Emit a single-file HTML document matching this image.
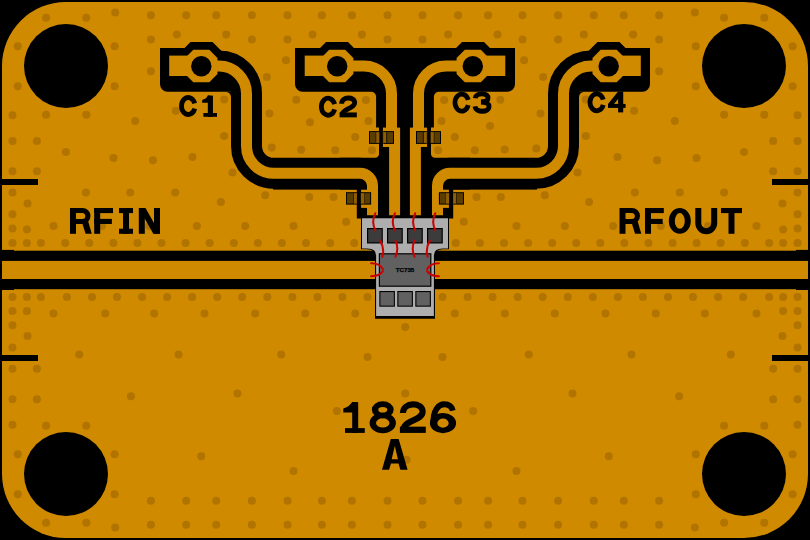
<!DOCTYPE html>
<html><head><meta charset="utf-8"><title>PCB Layout 1826</title>
<style>html,body{margin:0;padding:0;background:#000;}body{width:810px;height:540px;overflow:hidden;font-family:"Liberation Sans",sans-serif;}svg{display:block;}</style>
</head><body>
<svg width="810" height="540" viewBox="0 0 810 540">
<defs>
<g id="half">
<path d="M160,48H184.5L190.5,42H212.5L221.5,51V62H232V91.7H167.5A7.5,7.5 0 0 1 160,84.2Z" fill="#000"/>
<path d="M225.5,91.7H231V97.2A5.5,5.5 0 0 0 225.5,91.7Z" fill="#000"/>
<path d="M201,66H219A27.5,27.5 0 0 1 246.5,93.5V146A27.35,27.35 0 0 0 273.85,173.35H360A12.5,12.5 0 0 1 372.5,185.85V216" fill="none" stroke="#000" stroke-width="31"/>
<rect x="273" y="180" width="84" height="9.6" fill="#000"/>
<path d="M405.5,48H354L348,42H326L320,48H295V84.2A7.5,7.5 0 0 0 302.5,91.7H371.1A5,5 0 0 1 376.1,96.7V127.6H379V153.4A4,4 0 0 1 375,157.8H340V189.6H356.8V218.5H405.5Z" fill="#000"/>
<rect x="169.2" y="55.6" width="22.100000000000023" height="20.4" fill="#D08A00"/>
<polygon points="193.30,49.80 209.30,49.80 217.50,58.00 217.50,74.00 209.30,82.20 193.30,82.20 185.10,74.00 185.10,58.00" fill="#D08A00"/>
<rect x="304.7" y="55.6" width="22.5" height="20.4" fill="#D08A00"/>
<polygon points="329.20,49.80 345.20,49.80 353.40,58.00 353.40,74.00 345.20,82.20 329.20,82.20 321.00,74.00 321.00,58.00" fill="#D08A00"/>
<path d="M201,66H219A27.5,27.5 0 0 1 246.5,93.5V146A27.35,27.35 0 0 0 273.85,173.35H360A12.5,12.5 0 0 1 372.5,185.85V215.2" fill="none" stroke="#D08A00" stroke-width="11"/>
<rect x="361.1" y="189.7" width="16.8" height="18.2" fill="#D08A00"/>
<path d="M345,66H364A27.5,27.5 0 0 1 391.5,93.5V130" fill="none" stroke="#D08A00" stroke-width="11"/>
<path d="M394.6,128V215.2" fill="none" stroke="#D08A00" stroke-width="11"/>
<rect x="382.9" y="127.6" width="17.1" height="19.4" fill="#D08A00"/>
<circle cx="201.3" cy="66.2" r="10.2" fill="#000"/>
<circle cx="337.2" cy="66.2" r="10.2" fill="#000"/>
<rect x="369" y="131.1" width="10.20" height="12.80" fill="#000"/><rect x="383.2" y="131.1" width="10.80" height="12.80" fill="#000"/><rect x="370" y="132.1" width="9.20" height="10.80" fill="#5C3D00"/><rect x="375.4" y="132.1" width="3.80" height="10.80" fill="#2E1E00"/><rect x="376.3" y="132.1" width="2.90" height="10.80" fill="#8F5E00"/><rect x="383.2" y="132.1" width="9.80" height="10.80" fill="#5C3D00"/><rect x="383.2" y="132.1" width="4.10" height="10.80" fill="#2E1E00"/><rect x="383.2" y="132.1" width="2.80" height="10.80" fill="#8F5E00"/>
<rect x="346" y="192.2" width="10.90" height="12.40" fill="#000"/><rect x="360.9" y="192.2" width="10.20" height="12.40" fill="#000"/><rect x="346.9" y="193.2" width="10.00" height="10.40" fill="#5C3D00"/><rect x="353.1" y="193.2" width="3.80" height="10.40" fill="#2E1E00"/><rect x="354" y="193.2" width="2.90" height="10.40" fill="#8F5E00"/><rect x="360.9" y="193.2" width="9.20" height="10.40" fill="#5C3D00"/><rect x="360.9" y="193.2" width="4.10" height="10.40" fill="#2E1E00"/><rect x="360.9" y="193.2" width="3.30" height="10.40" fill="#8F5E00"/>
</g>
</defs>
<rect x="0" y="0" width="810" height="540" fill="#000"/>
<rect x="2" y="2" width="806" height="536" rx="64" ry="64" fill="#D08A00"/>
<g fill="#B17400">
<circle cx="114.6" cy="86.30" r="4"/>
<circle cx="86.3" cy="114.66" r="4"/>
<circle cx="46.1" cy="114.66" r="4"/>
<circle cx="17.8" cy="86.30" r="4"/>
<circle cx="17.8" cy="46.20" r="4"/>
<circle cx="46.1" cy="17.84" r="4"/>
<circle cx="86.3" cy="17.84" r="4"/>
<circle cx="114.6" cy="46.20" r="4"/>
<circle cx="792.6" cy="86.30" r="4"/>
<circle cx="764.3" cy="114.66" r="4"/>
<circle cx="724.1" cy="114.66" r="4"/>
<circle cx="695.8" cy="86.30" r="4"/>
<circle cx="695.8" cy="46.20" r="4"/>
<circle cx="724.1" cy="17.84" r="4"/>
<circle cx="764.3" cy="17.84" r="4"/>
<circle cx="792.6" cy="46.20" r="4"/>
<circle cx="114.6" cy="494.30" r="4"/>
<circle cx="86.3" cy="522.66" r="4"/>
<circle cx="46.1" cy="522.66" r="4"/>
<circle cx="17.8" cy="494.30" r="4"/>
<circle cx="17.8" cy="454.20" r="4"/>
<circle cx="46.1" cy="425.84" r="4"/>
<circle cx="86.3" cy="425.84" r="4"/>
<circle cx="114.6" cy="454.20" r="4"/>
<circle cx="792.6" cy="494.30" r="4"/>
<circle cx="764.3" cy="522.66" r="4"/>
<circle cx="724.1" cy="522.66" r="4"/>
<circle cx="695.8" cy="494.30" r="4"/>
<circle cx="695.8" cy="454.20" r="4"/>
<circle cx="724.1" cy="425.84" r="4"/>
<circle cx="764.3" cy="425.84" r="4"/>
<circle cx="792.6" cy="454.20" r="4"/>
<circle cx="115.2" cy="12.55" r="4"/>
<circle cx="115.2" cy="527.55" r="4"/>
<circle cx="694.8" cy="12.55" r="4"/>
<circle cx="694.8" cy="527.55" r="4"/>
<circle cx="150.9" cy="15.25" r="4"/>
<circle cx="150.9" cy="524.85" r="4"/>
<circle cx="659.1" cy="15.25" r="4"/>
<circle cx="659.1" cy="524.85" r="4"/>
<circle cx="186.2" cy="15.25" r="4"/>
<circle cx="186.2" cy="524.85" r="4"/>
<circle cx="623.8" cy="15.25" r="4"/>
<circle cx="623.8" cy="524.85" r="4"/>
<circle cx="216.2" cy="15.25" r="4"/>
<circle cx="216.2" cy="524.85" r="4"/>
<circle cx="593.8" cy="15.25" r="4"/>
<circle cx="593.8" cy="524.85" r="4"/>
<circle cx="251.9" cy="15.25" r="4"/>
<circle cx="251.9" cy="524.85" r="4"/>
<circle cx="558.1" cy="15.25" r="4"/>
<circle cx="558.1" cy="524.85" r="4"/>
<circle cx="287.5" cy="15.25" r="4"/>
<circle cx="287.5" cy="524.85" r="4"/>
<circle cx="522.5" cy="15.25" r="4"/>
<circle cx="522.5" cy="524.85" r="4"/>
<circle cx="321.9" cy="15.25" r="4"/>
<circle cx="321.9" cy="524.85" r="4"/>
<circle cx="488.1" cy="15.25" r="4"/>
<circle cx="488.1" cy="524.85" r="4"/>
<circle cx="351.9" cy="15.25" r="4"/>
<circle cx="351.9" cy="524.85" r="4"/>
<circle cx="458.1" cy="15.25" r="4"/>
<circle cx="458.1" cy="524.85" r="4"/>
<circle cx="387.5" cy="15.25" r="4"/>
<circle cx="387.5" cy="524.85" r="4"/>
<circle cx="422.5" cy="15.25" r="4"/>
<circle cx="422.5" cy="524.85" r="4"/>
<circle cx="12.5" cy="115.25" r="4"/>
<circle cx="12.5" cy="424.85" r="4"/>
<circle cx="797.5" cy="115.25" r="4"/>
<circle cx="797.5" cy="424.85" r="4"/>
<circle cx="12.5" cy="140.95" r="4"/>
<circle cx="12.5" cy="399.15" r="4"/>
<circle cx="797.5" cy="140.95" r="4"/>
<circle cx="797.5" cy="399.15" r="4"/>
<circle cx="36.9" cy="140.95" r="4"/>
<circle cx="36.9" cy="399.15" r="4"/>
<circle cx="773.1" cy="140.95" r="4"/>
<circle cx="773.1" cy="399.15" r="4"/>
<circle cx="12.5" cy="171.25" r="4"/>
<circle cx="12.5" cy="368.85" r="4"/>
<circle cx="797.5" cy="171.25" r="4"/>
<circle cx="797.5" cy="368.85" r="4"/>
<circle cx="36.9" cy="171.25" r="4"/>
<circle cx="36.9" cy="368.85" r="4"/>
<circle cx="773.1" cy="171.25" r="4"/>
<circle cx="773.1" cy="368.85" r="4"/>
<circle cx="176.9" cy="34.55" r="4"/>
<circle cx="633.1" cy="34.55" r="4"/>
<circle cx="226.2" cy="34.55" r="4"/>
<circle cx="583.8" cy="34.55" r="4"/>
<circle cx="312.5" cy="34.55" r="4"/>
<circle cx="497.5" cy="34.55" r="4"/>
<circle cx="361.9" cy="34.55" r="4"/>
<circle cx="448.1" cy="34.55" r="4"/>
<circle cx="150.9" cy="39.55" r="4"/>
<circle cx="659.1" cy="39.55" r="4"/>
<circle cx="251.9" cy="39.55" r="4"/>
<circle cx="558.1" cy="39.55" r="4"/>
<circle cx="287.5" cy="39.55" r="4"/>
<circle cx="522.5" cy="39.55" r="4"/>
<circle cx="387.5" cy="39.55" r="4"/>
<circle cx="422.5" cy="39.55" r="4"/>
<circle cx="150.9" cy="71.25" r="4"/>
<circle cx="659.1" cy="71.25" r="4"/>
<circle cx="285.9" cy="60.25" r="4"/>
<circle cx="524.1" cy="60.25" r="4"/>
<circle cx="150.9" cy="500.75" r="4"/>
<circle cx="659.1" cy="500.75" r="4"/>
<circle cx="186.2" cy="500.75" r="4"/>
<circle cx="623.8" cy="500.75" r="4"/>
<circle cx="216.2" cy="500.75" r="4"/>
<circle cx="593.8" cy="500.75" r="4"/>
<circle cx="251.9" cy="500.75" r="4"/>
<circle cx="558.1" cy="500.75" r="4"/>
<circle cx="287.5" cy="500.75" r="4"/>
<circle cx="522.5" cy="500.75" r="4"/>
<circle cx="321.9" cy="500.75" r="4"/>
<circle cx="488.1" cy="500.75" r="4"/>
<circle cx="351.9" cy="500.75" r="4"/>
<circle cx="458.1" cy="500.75" r="4"/>
<circle cx="387.5" cy="500.75" r="4"/>
<circle cx="422.5" cy="500.75" r="4"/>
<circle cx="266.9" cy="76.95" r="4"/>
<circle cx="543.1" cy="76.95" r="4"/>
<circle cx="224.2" cy="99.55" r="4"/>
<circle cx="585.8" cy="99.55" r="4"/>
<circle cx="175.9" cy="110.85" r="4"/>
<circle cx="634.1" cy="110.85" r="4"/>
<circle cx="135.2" cy="120.95" r="4"/>
<circle cx="674.8" cy="120.95" r="4"/>
<circle cx="269.5" cy="113.55" r="4"/>
<circle cx="540.5" cy="113.55" r="4"/>
<circle cx="224.2" cy="135.95" r="4"/>
<circle cx="585.8" cy="135.95" r="4"/>
<circle cx="65.9" cy="151.95" r="4"/>
<circle cx="744.1" cy="151.95" r="4"/>
<circle cx="113.5" cy="157.95" r="4"/>
<circle cx="696.5" cy="157.95" r="4"/>
<circle cx="152.9" cy="160.25" r="4"/>
<circle cx="657.1" cy="160.25" r="4"/>
<circle cx="192.5" cy="156.95" r="4"/>
<circle cx="617.5" cy="156.95" r="4"/>
<circle cx="232.5" cy="172.55" r="4"/>
<circle cx="577.5" cy="172.55" r="4"/>
<circle cx="365.9" cy="100.05" r="4"/>
<circle cx="444.1" cy="100.05" r="4"/>
<circle cx="368.5" cy="120.95" r="4"/>
<circle cx="441.5" cy="120.95" r="4"/>
<circle cx="355.2" cy="136.95" r="4"/>
<circle cx="454.8" cy="136.95" r="4"/>
<circle cx="335.2" cy="150.25" r="4"/>
<circle cx="474.8" cy="150.25" r="4"/>
<circle cx="371.9" cy="150.25" r="4"/>
<circle cx="438.1" cy="150.25" r="4"/>
<circle cx="12.5" cy="192.55" r="4"/>
<circle cx="797.5" cy="192.55" r="4"/>
<circle cx="85.9" cy="192.55" r="4"/>
<circle cx="724.1" cy="192.55" r="4"/>
<circle cx="130.2" cy="192.55" r="4"/>
<circle cx="679.8" cy="192.55" r="4"/>
<circle cx="175.2" cy="192.55" r="4"/>
<circle cx="634.8" cy="192.55" r="4"/>
<circle cx="265.2" cy="195.25" r="4"/>
<circle cx="544.8" cy="195.25" r="4"/>
<circle cx="27.5" cy="203.55" r="4"/>
<circle cx="782.5" cy="203.55" r="4"/>
<circle cx="220.9" cy="201.95" r="4"/>
<circle cx="589.1" cy="201.95" r="4"/>
<circle cx="12.5" cy="214.25" r="4"/>
<circle cx="797.5" cy="214.25" r="4"/>
<circle cx="12.5" cy="228.55" r="4"/>
<circle cx="797.5" cy="228.55" r="4"/>
<circle cx="26.9" cy="229.55" r="4"/>
<circle cx="783.1" cy="229.55" r="4"/>
<circle cx="53.5" cy="225.95" r="4"/>
<circle cx="756.5" cy="225.95" r="4"/>
<circle cx="101.9" cy="225.95" r="4"/>
<circle cx="708.1" cy="225.95" r="4"/>
<circle cx="149.2" cy="225.95" r="4"/>
<circle cx="660.8" cy="225.95" r="4"/>
<circle cx="196.9" cy="225.95" r="4"/>
<circle cx="613.1" cy="225.95" r="4"/>
<circle cx="245.2" cy="225.95" r="4"/>
<circle cx="564.8" cy="225.95" r="4"/>
<circle cx="293.5" cy="225.95" r="4"/>
<circle cx="516.5" cy="225.95" r="4"/>
<circle cx="309.2" cy="196.95" r="4"/>
<circle cx="500.8" cy="196.95" r="4"/>
<circle cx="333.5" cy="196.95" r="4"/>
<circle cx="476.5" cy="196.95" r="4"/>
<circle cx="346.2" cy="221.75" r="4"/>
<circle cx="463.8" cy="221.75" r="4"/>
<circle cx="12.5" cy="242.95" r="4"/>
<circle cx="797.5" cy="242.95" r="4"/>
<circle cx="26.9" cy="242.95" r="4"/>
<circle cx="783.1" cy="242.95" r="4"/>
<circle cx="40.9" cy="242.95" r="4"/>
<circle cx="769.1" cy="242.95" r="4"/>
<circle cx="12.5" cy="296.95" r="4"/>
<circle cx="797.5" cy="296.95" r="4"/>
<circle cx="26.9" cy="296.95" r="4"/>
<circle cx="783.1" cy="296.95" r="4"/>
<circle cx="40.9" cy="296.95" r="4"/>
<circle cx="769.1" cy="296.95" r="4"/>
<circle cx="12.5" cy="310.95" r="4"/>
<circle cx="797.5" cy="310.95" r="4"/>
<circle cx="26.9" cy="310.95" r="4"/>
<circle cx="783.1" cy="310.95" r="4"/>
<circle cx="53.5" cy="313.55" r="4"/>
<circle cx="756.5" cy="313.55" r="4"/>
<circle cx="105.2" cy="313.55" r="4"/>
<circle cx="704.8" cy="313.55" r="4"/>
<circle cx="154.2" cy="313.55" r="4"/>
<circle cx="655.8" cy="313.55" r="4"/>
<circle cx="204.5" cy="313.55" r="4"/>
<circle cx="605.5" cy="313.55" r="4"/>
<circle cx="255.2" cy="313.55" r="4"/>
<circle cx="554.8" cy="313.55" r="4"/>
<circle cx="305.2" cy="313.55" r="4"/>
<circle cx="504.8" cy="313.55" r="4"/>
<circle cx="355.2" cy="313.55" r="4"/>
<circle cx="454.8" cy="313.55" r="4"/>
<circle cx="12.5" cy="325.25" r="4"/>
<circle cx="797.5" cy="325.25" r="4"/>
<circle cx="27.5" cy="335.95" r="4"/>
<circle cx="782.5" cy="335.95" r="4"/>
<circle cx="12.5" cy="347.55" r="4"/>
<circle cx="797.5" cy="347.55" r="4"/>
<circle cx="79.2" cy="354.55" r="4"/>
<circle cx="730.8" cy="354.55" r="4"/>
<circle cx="178.5" cy="354.55" r="4"/>
<circle cx="631.5" cy="354.55" r="4"/>
<circle cx="281.2" cy="354.55" r="4"/>
<circle cx="528.8" cy="354.55" r="4"/>
<circle cx="367.5" cy="356.95" r="4"/>
<circle cx="442.5" cy="356.95" r="4"/>
<circle cx="130.9" cy="396.25" r="4"/>
<circle cx="679.1" cy="396.25" r="4"/>
<circle cx="237.5" cy="393.55" r="4"/>
<circle cx="572.5" cy="393.55" r="4"/>
<circle cx="201.2" cy="456.25" r="4"/>
<circle cx="608.8" cy="456.25" r="4"/>
<circle cx="336.9" cy="410.95" r="4"/>
<circle cx="473.1" cy="410.95" r="4"/>
<circle cx="293.5" cy="470.95" r="4"/>
<circle cx="516.5" cy="470.95" r="4"/>
<circle cx="65.2" cy="242.95" r="4"/>
<circle cx="744.8" cy="242.95" r="4"/>
<circle cx="66.9" cy="296.95" r="4"/>
<circle cx="743.1" cy="296.95" r="4"/>
<circle cx="89.3" cy="242.95" r="4"/>
<circle cx="720.7" cy="242.95" r="4"/>
<circle cx="92.0" cy="296.95" r="4"/>
<circle cx="718.1" cy="296.95" r="4"/>
<circle cx="113.4" cy="242.95" r="4"/>
<circle cx="696.6" cy="242.95" r="4"/>
<circle cx="117.0" cy="296.95" r="4"/>
<circle cx="693.0" cy="296.95" r="4"/>
<circle cx="137.4" cy="242.95" r="4"/>
<circle cx="672.6" cy="242.95" r="4"/>
<circle cx="142.1" cy="296.95" r="4"/>
<circle cx="668.0" cy="296.95" r="4"/>
<circle cx="161.5" cy="242.95" r="4"/>
<circle cx="648.5" cy="242.95" r="4"/>
<circle cx="167.1" cy="296.95" r="4"/>
<circle cx="642.9" cy="296.95" r="4"/>
<circle cx="185.6" cy="242.95" r="4"/>
<circle cx="624.4" cy="242.95" r="4"/>
<circle cx="192.1" cy="296.95" r="4"/>
<circle cx="617.9" cy="296.95" r="4"/>
<circle cx="209.7" cy="242.95" r="4"/>
<circle cx="600.3" cy="242.95" r="4"/>
<circle cx="217.2" cy="296.95" r="4"/>
<circle cx="592.8" cy="296.95" r="4"/>
<circle cx="233.8" cy="242.95" r="4"/>
<circle cx="576.2" cy="242.95" r="4"/>
<circle cx="242.2" cy="296.95" r="4"/>
<circle cx="567.8" cy="296.95" r="4"/>
<circle cx="257.8" cy="242.95" r="4"/>
<circle cx="552.2" cy="242.95" r="4"/>
<circle cx="267.3" cy="296.95" r="4"/>
<circle cx="542.7" cy="296.95" r="4"/>
<circle cx="281.9" cy="242.95" r="4"/>
<circle cx="528.1" cy="242.95" r="4"/>
<circle cx="292.4" cy="296.95" r="4"/>
<circle cx="517.7" cy="296.95" r="4"/>
<circle cx="306.0" cy="242.95" r="4"/>
<circle cx="504.0" cy="242.95" r="4"/>
<circle cx="317.4" cy="296.95" r="4"/>
<circle cx="492.6" cy="296.95" r="4"/>
<circle cx="330.1" cy="242.95" r="4"/>
<circle cx="479.9" cy="242.95" r="4"/>
<circle cx="342.4" cy="296.95" r="4"/>
<circle cx="467.6" cy="296.95" r="4"/>
<circle cx="354.2" cy="242.95" r="4"/>
<circle cx="455.8" cy="242.95" r="4"/>
<circle cx="367.5" cy="296.95" r="4"/>
<circle cx="442.5" cy="296.95" r="4"/>
<circle cx="296.2" cy="99.75" r="4"/>
<circle cx="310.0" cy="122.25" r="4"/>
<circle cx="301.2" cy="149.75" r="4"/>
<circle cx="271.7" cy="147.55" r="4"/>
<circle cx="500.3" cy="99.75" r="4"/>
<circle cx="490.0" cy="126.05" r="4"/>
<circle cx="504.7" cy="149.45" r="4"/>
<circle cx="536.3" cy="148.55" r="4"/>
<circle cx="405.2" cy="326.95" r="4"/>
<circle cx="405.2" cy="393.55" r="4"/>
<circle cx="406.7" cy="459.65" r="4"/>
</g>
<circle cx="66" cy="66" r="42" fill="#000"/>
<circle cx="744" cy="66" r="42" fill="#000"/>
<circle cx="66" cy="474" r="42" fill="#000"/>
<circle cx="744" cy="474" r="42" fill="#000"/>
<rect x="0" y="179" width="38" height="6" fill="#000"/>
<rect x="772" y="179" width="38" height="6" fill="#000"/>
<rect x="0" y="355" width="38" height="6" fill="#000"/>
<rect x="772" y="355" width="38" height="6" fill="#000"/>
<rect x="0" y="250.7" width="810" height="10.2" fill="#000"/>
<rect x="0" y="249.9" width="14" height="2" fill="#000"/>
<rect x="0" y="288" width="14" height="2" fill="#000"/>
<rect x="796" y="249.9" width="14" height="2" fill="#000"/>
<rect x="796" y="288" width="14" height="2" fill="#000"/>
<rect x="0" y="279" width="810" height="10.2" fill="#000"/>
<use href="#half"/>
<use href="#half" transform="translate(810,0) scale(-1,1)"/>
<path d="M361,217.3H449V249.2H443Q435,249.2 435,256V318.7H375V256Q375,249.2 367,249.2H361Z" fill="#000"/>
<path d="M362,218.2H448V248.5H442.5Q433.9,248.5 433.9,255.5V316H376.1V255.5Q376.1,248.5 367.5,248.5H362Z" fill="#AEAEAE"/>
<rect x="367" y="228" width="15.8" height="15.5" fill="#000"/>
<rect x="368.2" y="229.2" width="13.4" height="13.1" fill="#3C3C3C"/>
<rect x="387" y="228" width="15.8" height="15.5" fill="#000"/>
<rect x="388.2" y="229.2" width="13.4" height="13.1" fill="#3C3C3C"/>
<rect x="407" y="228" width="15.8" height="15.5" fill="#000"/>
<rect x="408.2" y="229.2" width="13.4" height="13.1" fill="#3C3C3C"/>
<rect x="427" y="228" width="15.8" height="15.5" fill="#000"/>
<rect x="428.2" y="229.2" width="13.4" height="13.1" fill="#3C3C3C"/>
<rect x="378.8" y="253.2" width="52.6" height="33.6" fill="#000"/>
<rect x="380" y="254.4" width="50.2" height="31.2" fill="#616161"/>
<text x="405" y="272.1" font-family="Liberation Sans, sans-serif" font-weight="bold" font-size="6.2px" text-anchor="middle" fill="#000" stroke="#000" stroke-width="0.25">TC735</text>
<rect x="379.3" y="291" width="15.6" height="15.7" fill="#000"/>
<rect x="380.40000000000003" y="292.1" width="13.4" height="13.5" fill="#616161"/>
<rect x="397.3" y="291" width="15.6" height="15.7" fill="#000"/>
<rect x="398.40000000000003" y="292.1" width="13.4" height="13.5" fill="#616161"/>
<rect x="415.3" y="291" width="15.6" height="15.7" fill="#000"/>
<rect x="416.40000000000003" y="292.1" width="13.4" height="13.5" fill="#616161"/>
<g fill="none" stroke="#CC0000" stroke-width="2" stroke-linecap="round">
<path d="M375.3,213.2Q371.1,221.5 375.3,230.3"/>
<path d="M394.9,213.2Q390.7,221.5 394.9,230.3"/>
<path d="M415.2,213.2Q411.0,221.5 415.2,230.3"/>
<path d="M435.3,213.2Q431.1,221.5 435.3,230.3"/>
<path d="M380.1,240.6Q384.8,248 382.4,256.8"/>
<path d="M395.4,240.6Q399.2,248.5 395.4,256.8"/>
<path d="M414.6,240.6Q410.8,248.5 414.6,256.8"/>
<path d="M429.9,240.6Q425.2,248 427.6,256.8"/>
<path d="M371.1,263.3Q379.5,263.3 382.9,268.9"/>
<path d="M371.1,276.2Q379.5,276.2 382.9,271.1"/>
<path d="M438.9,263.3Q430.5,263.3 427.1,268.9"/>
<path d="M438.9,276.2Q430.5,276.2 427.1,271.1"/>
</g>
<g fill="#000">
<rect x="70.00" y="208.00" width="6.00" height="25.80"/><path d="M73.00,210.55H82.49A5.45,5.45 0 0 1 82.49,221.45H73.00" fill="none" stroke="#000" stroke-width="5.10"/><path d="M82.32,223.48L85.59,233.80H91.80L88.20,221.42Z"/>
<rect x="94.20" y="208.00" width="6.00" height="25.80"/><rect x="94.20" y="208.00" width="18.80" height="5.10"/><rect x="94.20" y="218.87" width="17.67" height="5.10"/>
<rect x="123.00" y="208.00" width="6.00" height="25.80"/><rect x="119.00" y="208.00" width="14.00" height="5.10"/><rect x="119.00" y="228.70" width="14.00" height="5.10"/>
<rect x="138.80" y="208.00" width="6.00" height="25.80"/><rect x="154.00" y="208.00" width="6.00" height="25.80"/><path d="M138.80,208.00H145.52L160.00,233.80H153.28Z"/>
<rect x="619.50" y="208.00" width="6.00" height="25.80"/><path d="M622.50,210.55H631.99A5.45,5.45 0 0 1 631.99,221.45H622.50" fill="none" stroke="#000" stroke-width="5.10"/><path d="M631.82,223.48L635.09,233.80H641.30L637.70,221.42Z"/>
<rect x="645.00" y="208.00" width="6.00" height="25.80"/><rect x="645.00" y="208.00" width="18.80" height="5.10"/><rect x="645.00" y="218.87" width="17.67" height="5.10"/>
<path fill-rule="evenodd" d="M668.80,220.90A11.00,12.90 0 1 1 690.80,220.90A11.00,12.90 0 1 1 668.80,220.90ZM674.80,220.90A5.00,7.80 0 1 1 684.80,220.90A5.00,7.80 0 1 1 674.80,220.90Z"/>
<path d="M698.30,208.00V223.30A7.95,7.95 0 0 0 714.20,223.30V208.00" fill="none" stroke="#000" stroke-width="6.00"/>
<rect x="721.00" y="208.00" width="21.00" height="5.10"/><rect x="728.50" y="208.00" width="6.00" height="25.80"/>
<g transform="translate(179.30,95.40) scale(0.8000,0.8154)" fill="none" stroke="#000" stroke-width="5.94"><path d="M19.3,9.8A8.5,10.4 0 1 0 19.3,16.2"/></g>
<rect x="207.83" y="95.60" width="5.10" height="21.20"/><rect x="203.38" y="113.03" width="13.62" height="3.77"/><path d="M202.20,100.05Q206.05,99.20 207.83,95.60H210.38V102.70H202.20Z"/>
<g transform="translate(319.20,96.10) scale(0.8000,0.8154)" fill="none" stroke="#000" stroke-width="5.94"><path d="M19.3,9.8A8.5,10.4 0 1 0 19.3,16.2"/></g>
<g transform="translate(339.60,96.10) scale(0.7818,0.8000)" fill="none" stroke="#000" stroke-width="6.13"><path d="M2.6,9.6C2.6,0.2 19.3,0.2 19.3,8.3C19.3,16 4.6,14.6 2.9,23.2"/><path d="M0,23.5H22"/></g>
<g transform="translate(452.80,92.00) scale(0.8000,0.8154)" fill="none" stroke="#000" stroke-width="5.94"><path d="M19.3,9.8A8.5,10.4 0 1 0 19.3,16.2"/></g>
<g transform="translate(473.30,91.90) scale(0.8091,0.8154)" fill="none" stroke="#000" stroke-width="5.97"><path d="M2.4,7.8C3.4,0.6 18.2,0.8 18.2,7.5C18.2,11.6 14,12.2 9.5,12.2"/><path d="M9.5,12.6C14.5,12.6 19.4,13.4 19.4,18C19.4,25.6 3,25.8 2,17.8"/></g>
<g transform="translate(587.80,91.70) scale(0.8000,0.8154)" fill="none" stroke="#000" stroke-width="5.94"><path d="M19.3,9.8A8.5,10.4 0 1 0 19.3,16.2"/></g>
<rect x="618.12" y="91.50" width="5.10" height="20.90"/><rect x="608.00" y="103.94" width="17.60" height="3.96"/><path d="M618.12,91.50L621.71,94.39L611.59,106.93L608.00,104.04Z"/>
<rect x="352.19" y="402.10" width="6.00" height="30.80"/><rect x="345.02" y="428.14" width="19.78" height="4.76"/><path d="M343.30,408.57Q348.89,407.34 352.19,402.10H355.19V412.42H343.30Z"/>
<path fill-rule="evenodd" d="M371.84,409.82A10.91,8.52 0 1 1 393.66,409.82A10.91,8.52 0 1 1 371.84,409.82ZM378.24,409.82A4.51,2.82 0 1 1 387.26,409.82A4.51,2.82 0 1 1 378.24,409.82Z"/><path fill-rule="evenodd" d="M369.60,422.92A13.15,10.28 0 1 1 395.90,422.92A13.15,10.28 0 1 1 369.60,422.92ZM376.00,422.92A6.75,4.58 0 1 1 389.50,422.92A6.75,4.58 0 1 1 376.00,422.92Z"/>
<g transform="translate(399.90,401.50) scale(1.1773,1.2038)" fill="none" stroke="#000" stroke-width="5.21"><path d="M2.6,9.6C2.6,0.2 19.3,0.2 19.3,8.3C19.3,16 4.6,14.6 2.9,23.2"/><path d="M0,23.5H22"/></g>
<g transform="translate(429.90,401.30) scale(1.1909,1.2269)" fill="none" stroke="#000" stroke-width="4.88"><path d="M3,18.5C2.4,7 7.5,2.5 12,2.5C15.8,2.5 18.4,4.4 19.2,7.6"/></g><path fill-rule="evenodd" d="M429.90,423.15A13.10,10.05 0 1 1 456.10,423.15A13.10,10.05 0 1 1 429.90,423.15ZM437.33,423.15A5.67,4.55 0 1 1 448.67,423.15A5.67,4.55 0 1 1 437.33,423.15Z"/>
<path fill-rule="evenodd" d="M382.00,469.80L390.82,439.10L398.66,439.10L407.60,469.80L400.35,469.80L398.54,463.54L390.94,463.54L389.12,469.80ZM394.80,446.07L397.94,459.17L391.66,459.17Z"/>
</g>
</svg>
</body></html>
